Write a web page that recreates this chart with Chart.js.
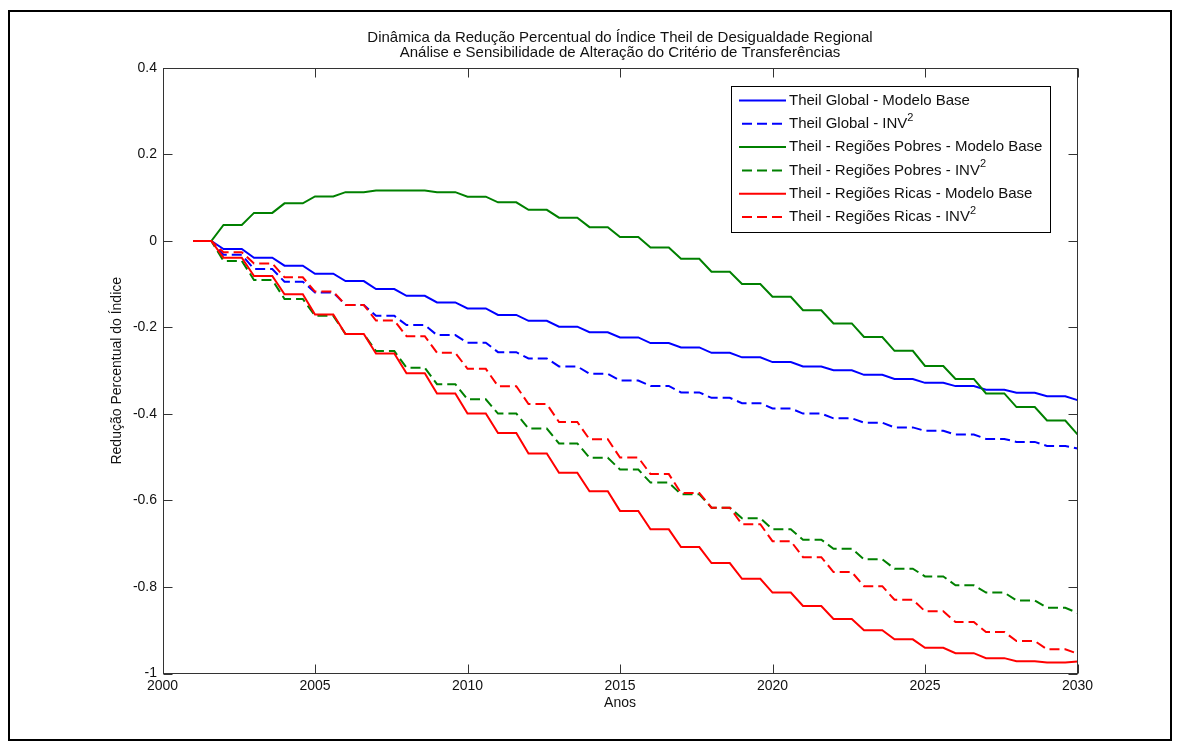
<!DOCTYPE html>
<html>
<head>
<meta charset="utf-8">
<script src="https://cdn.jsdelivr.net/npm/chart.js@4/dist/chart.umd.min.js"></script>
<style>
  html, body { margin: 0; padding: 0; background: #fff; }
  canvas { display: block; }
</style>
</head>
<body>
<canvas id="c" width="1180" height="749"></canvas>
<script>
// ---- data -------------------------------------------------------------
const years = [2001, 2002, 2003, 2004, 2005, 2006, 2007, 2008, 2009, 2010,
               2011, 2012, 2013, 2014, 2015, 2016, 2017, 2018, 2019, 2020,
               2021, 2022, 2023, 2024, 2025, 2026, 2027, 2028, 2029, 2030];

const theilGlobalBase = [0, -0.0185, -0.0386, -0.057, -0.0757, -0.0926, -0.111, -0.1266, -0.142, -0.156,
                         -0.171, -0.1845, -0.198, -0.211, -0.223, -0.236, -0.246, -0.2585, -0.269, -0.280,
                         -0.290, -0.299, -0.3095, -0.319, -0.328, -0.3355, -0.344, -0.351, -0.359, -0.368];

const theilGlobalInv2 = [0, -0.032, -0.065, -0.094, -0.119, -0.148, -0.173, -0.1945, -0.2176, -0.235,
                         -0.257, -0.2716, -0.290, -0.307, -0.3225, -0.335, -0.350, -0.3627, -0.375, -0.387,
                         -0.399, -0.410, -0.420, -0.431, -0.439, -0.4475, -0.4576, -0.4645, -0.4738, -0.480];

const theilPobresBase = [0, 0.037, 0.065, 0.087, 0.103, 0.113, 0.117, 0.117, 0.113, 0.1025,
                         0.0895, 0.072, 0.054, 0.032, 0.009, -0.015, -0.041, -0.071, -0.0995, -0.129,
                         -0.160, -0.1905, -0.222, -0.254, -0.289, -0.319, -0.3525, -0.384, -0.415, -0.447];

const theilPobresInv2 = [0, -0.046, -0.090, -0.134, -0.173, -0.215, -0.2546, -0.293, -0.331, -0.366,
                         -0.399, -0.4336, -0.468, -0.501, -0.5285, -0.5586, -0.5856, -0.6165, -0.641, -0.6667,
                         -0.6906, -0.7114, -0.736, -0.7577, -0.7755, -0.796, -0.813, -0.831, -0.848, -0.860];

const theilRicasBase = [0, -0.0386, -0.081, -0.123, -0.170, -0.215, -0.260, -0.306, -0.3526, -0.399,
                        -0.444, -0.4915, -0.536, -0.5787, -0.624, -0.6667, -0.7076, -0.7446, -0.781, -0.813,
                        -0.844, -0.874, -0.900, -0.921, -0.9405, -0.953, -0.9645, -0.9715, -0.9745, -0.972];

const theilRicasInv2 = [0, -0.026, -0.052, -0.084, -0.117, -0.148, -0.184, -0.220, -0.2585, -0.2955,
                        -0.3356, -0.377, -0.4185, -0.4585, -0.5007, -0.539, -0.5826, -0.6165, -0.655, -0.694,
                        -0.731, -0.7655, -0.798, -0.8294, -0.856, -0.881, -0.904, -0.925, -0.944, -0.954];

const seriesLabels = [
  'Theil Global - Modelo Base',
  'Theil Global - INV²',
  'Theil - Regiões Pobres - Modelo Base',
  'Theil - Regiões Pobres - INV²',
  'Theil - Regiões Ricas - Modelo Base',
  'Theil - Regiões Ricas - INV²'
];

const xTickValues = [2000, 2005, 2010, 2015, 2020, 2025, 2030];
const yTickValues = [-1, -0.8, -0.6, -0.4, -0.2, 0, 0.2, 0.4];

const titleLines = [
  'Dinâmica da Redução Percentual do Índice Theil de Desigualdade Regional',
  'Análise e Sensibilidade de Alteração do Critério de Transferências'
];
const xAxisTitle = 'Anos';
const yAxisTitle = 'Redução Percentual do Índice';

// ---- styling ----------------------------------------------------------
const FONT = "'Liberation Sans', Arial, Helvetica, sans-serif";
const TEXT = '#111';
const BLUE = '#0000ff', GREEN = '#008000', RED = '#ff0000';
const DASH = [10, 5];

const seriesValues = [theilGlobalBase, theilGlobalInv2, theilPobresBase,
                      theilPobresInv2, theilRicasBase, theilRicasInv2];
const seriesColors = [BLUE, BLUE, GREEN, GREEN, RED, RED];
const seriesDashed = [false, true, false, true, false, true];

// each annual value is held for the first part of the year,
// then the line moves towards the next year's value
const HOLD = 0.6;
function annualSteps(values) {
  const pts = [];
  years.forEach((yr, i) => {
    pts.push({ x: yr, y: values[i] });
    if (i < years.length - 1) pts.push({ x: yr + HOLD, y: values[i] });
  });
  return pts;
}

const datasets = seriesValues.map((vals, i) => ({
  label: seriesLabels[i],
  data: annualSteps(vals),
  borderColor: seriesColors[i],
  backgroundColor: seriesColors[i],
  borderDash: seriesDashed[i] ? DASH : [],
  borderWidth: 2,
  pointRadius: 0,
  pointHoverRadius: 0,
  tension: 0,
  fill: false,
  yAxisID: 'y',
  order: seriesValues.length - i   // later series painted on top
}));

// ---- figure frame, axes box with inward ticks, boxed legend -----------
const legendBox = { x: 731.5, y: 86.5, w: 319, h: 146, row0: 100.5, rowStep: 23.3,
                    lineFrom: 739, lineTo: 786, textX: 789, fontSize: 15 };
const TICK_LEN = 9;

const figurePlugin = {
  id: 'figure',
  beforeDraw(chart) {
    const ctx = chart.ctx;
    ctx.save();
    ctx.fillStyle = '#fff';
    ctx.fillRect(0, 0, chart.width, chart.height);
    ctx.restore();
  },
  afterDraw(chart) {
    const { ctx, chartArea: a, scales } = chart;
    const xs = scales.x, ys = scales.y;
    ctx.save();

    // outer figure border
    ctx.strokeStyle = '#000';
    ctx.lineWidth = 2;
    ctx.strokeRect(9, 11, 1162, 729);

    // axes box
    ctx.strokeStyle = '#333';
    ctx.lineWidth = 1;
    const L = Math.round(a.left) + 0.5, R = Math.round(a.right) - 0.5;
    const T = Math.round(a.top) + 0.5, B = Math.round(a.bottom) - 0.5;
    ctx.strokeRect(L, T, R - L, B - T);

    // inward tick marks on all four sides
    ctx.beginPath();
    xs.ticks.forEach(t => {
      const px = Math.round(xs.getPixelForValue(t.value)) + 0.5;
      ctx.moveTo(px, B); ctx.lineTo(px, B - TICK_LEN);
      ctx.moveTo(px, T); ctx.lineTo(px, T + TICK_LEN);
    });
    ys.ticks.forEach(t => {
      const py = Math.round(ys.getPixelForValue(t.value)) + 0.5;
      ctx.moveTo(L, py); ctx.lineTo(L + TICK_LEN, py);
      ctx.moveTo(R, py); ctx.lineTo(R - TICK_LEN, py);
    });
    ctx.stroke();

    // legend
    const lg = legendBox;
    ctx.fillStyle = '#fff';
    ctx.fillRect(lg.x, lg.y, lg.w, lg.h);
    ctx.strokeStyle = '#000';
    ctx.lineWidth = 1;
    ctx.strokeRect(lg.x, lg.y, lg.w, lg.h);

    chart.data.datasets.forEach((ds, i) => {
      const y = lg.row0 + i * lg.rowStep;
      ctx.save();
      ctx.strokeStyle = ds.borderColor;
      ctx.lineWidth = 2;
      ctx.setLineDash(ds.borderDash || []);
      ctx.beginPath();
      ctx.moveTo(ds.borderDash && ds.borderDash.length ? lg.lineFrom + 3 : lg.lineFrom, y);
      ctx.lineTo(lg.lineTo, y);
      ctx.stroke();
      ctx.restore();

      const parts = ds.label.split('²');
      ctx.fillStyle = TEXT;
      ctx.textBaseline = 'middle';
      ctx.textAlign = 'left';
      ctx.font = lg.fontSize + 'px ' + FONT;
      ctx.fillText(parts[0], lg.textX, y);
      if (parts.length > 1) {
        const w = ctx.measureText(parts[0]).width;
        ctx.font = '11px ' + FONT;
        ctx.fillText('2', lg.textX + w, y - 6);
      }
    });

    ctx.restore();
  }
};

// ---- chart ------------------------------------------------------------
Chart.defaults.font.family = FONT;
Chart.defaults.color = TEXT;

new Chart(document.getElementById('c'), {
  type: 'line',
  data: { datasets },
  options: {
    responsive: false,
    animation: false,
    devicePixelRatio: 1,
    events: [],
    layout: { padding: { left: 60, right: 0, top: 0, bottom: 0 } },
    plugins: {
      legend: { display: false },
      tooltip: { enabled: false },
      title: {
        display: true,
        text: titleLines,
        color: TEXT,
        font: { size: 15, weight: 'normal', lineHeight: '15px' },
        padding: { top: 30.5, bottom: 7.5 }
      }
    },
    scales: {
      x: {
        type: 'linear',
        min: 2000,
        max: 2030,
        afterBuildTicks(s) { s.ticks = xTickValues.map(v => ({ value: v })); },
        afterFit(s) { s.height = 75.5; },
        grid: { display: false, drawTicks: false },
        border: { display: false },
        ticks: {
          padding: 4,
          color: TEXT,
          font: { size: 14 },
          maxRotation: 0,
          autoSkip: false,
          callback: v => String(v)
        },
        title: {
          display: true,
          text: xAxisTitle,
          color: TEXT,
          font: { size: 14 },
          padding: { top: 0, bottom: 37.6 }
        }
      },
      y: {
        type: 'linear',
        position: 'left',
        min: -1,
        max: 0.4,
        afterBuildTicks(s) { s.ticks = yTickValues.map(v => ({ value: v })); },
        afterFit(s) { s.width = 102.5; },
        grid: { display: false, drawTicks: false },
        border: { display: false },
        ticks: {
          padding: 5.5,
          color: TEXT,
          font: { size: 14 },
          autoSkip: false,
          callback: v => String(+Number(v).toFixed(1))
        },
        title: {
          display: true,
          text: yAxisTitle,
          color: TEXT,
          font: { size: 14 },
          padding: { top: 48.6, bottom: 0 }
        }
      },
      // empty right-hand margin so the figure title centres over the axes
      yRight: {
        type: 'linear',
        position: 'right',
        min: -1,
        max: 0.4,
        afterFit(s) { s.width = 102.5; },
        grid: { display: false, drawTicks: false },
        border: { display: false },
        ticks: { display: false }
      }
    }
  },
  plugins: [figurePlugin]
});
</script>
</body>
</html>
